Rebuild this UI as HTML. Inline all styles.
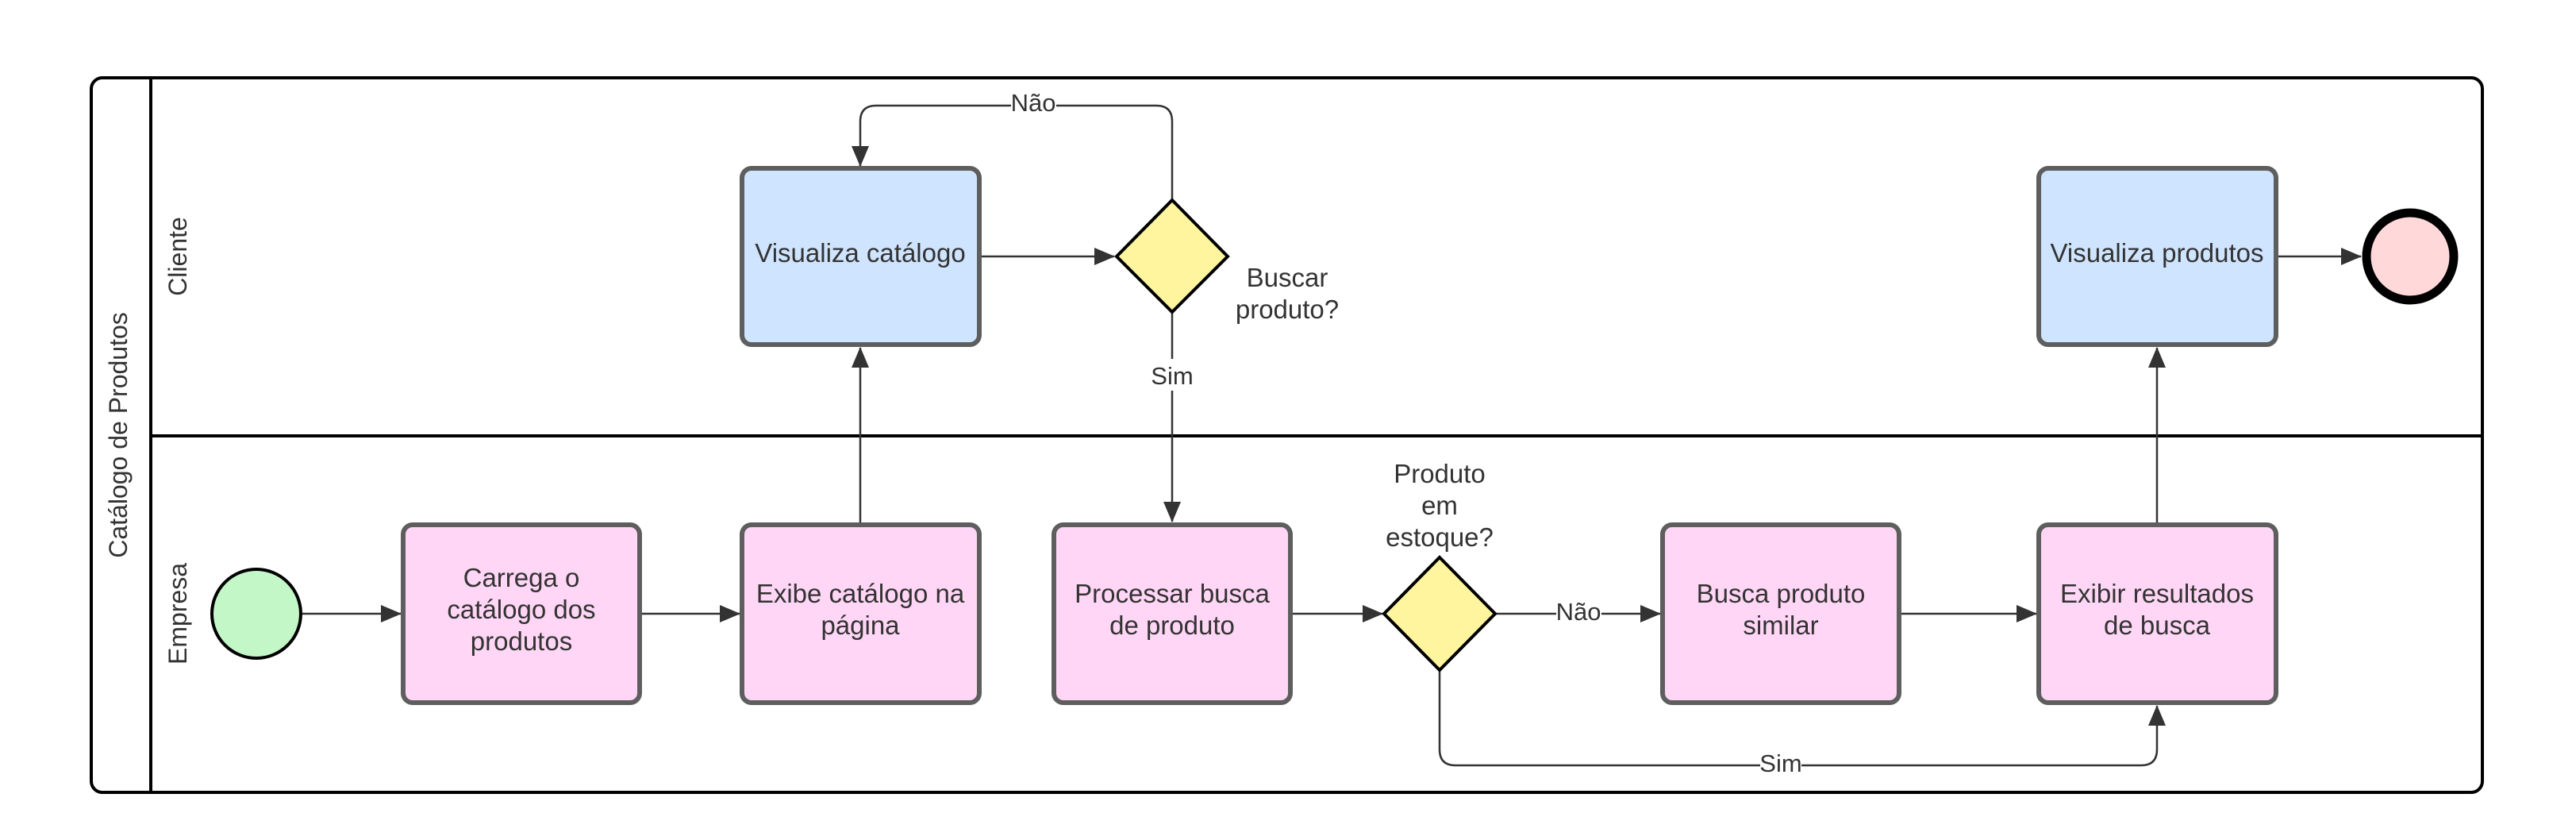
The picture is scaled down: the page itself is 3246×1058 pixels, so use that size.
<!DOCTYPE html>
<html><head><meta charset="utf-8"><style>
html,body{margin:0;padding:0;background:#fff;}
svg{display:block;}
text{font-family:"Liberation Sans",sans-serif;fill:#333;}
</style></head><body>
<svg width="3246" height="1058" viewBox="0 0 3246 1058" xmlns="http://www.w3.org/2000/svg">
<defs>
<marker id="b" markerWidth="26" markerHeight="22" refX="25" refY="11" orient="auto" markerUnits="userSpaceOnUse" viewBox="0 0 26 22">
<path d="M0,0 L26,11 L0,22 Z" fill="#333"/></marker>
</defs>
<!-- pool -->
<rect x="115" y="98" width="3013" height="900" rx="14" fill="#fff" stroke="#000" stroke-width="4"/>
<line x1="190" y1="98" x2="190" y2="998" stroke="#000" stroke-width="4"/>
<line x1="190" y1="549" x2="3128" y2="549" stroke="#000" stroke-width="4"/>
<text x="0" y="0" font-size="32" text-anchor="middle" transform="translate(160,548) rotate(-90)">Catálogo de Produtos</text>
<text x="0" y="0" font-size="32" text-anchor="middle" transform="translate(235,323) rotate(-90)">Cliente</text>
<text x="0" y="0" font-size="32" text-anchor="middle" transform="translate(235,773) rotate(-90)">Empresa</text>

<g stroke="#333" stroke-width="2.5" fill="none">
<line x1="380" y1="773" x2="505" y2="773" marker-end="url(#b)"/>
<line x1="808" y1="773" x2="932" y2="773" marker-end="url(#b)"/>
<line x1="1084" y1="658" x2="1084" y2="438" marker-end="url(#b)"/>
<line x1="1236" y1="323" x2="1404" y2="323" marker-end="url(#b)"/>
<path d="M1477,252 V153 Q1477,133 1457,133 H1104 Q1084,133 1084,153 V209" marker-end="url(#b)"/>
<line x1="1477" y1="393" x2="1477" y2="657" marker-end="url(#b)"/>
<line x1="1628" y1="773" x2="1742" y2="773" marker-end="url(#b)"/>
<line x1="1883" y1="773" x2="2092" y2="773" marker-end="url(#b)"/>
<line x1="2394" y1="773" x2="2566" y2="773" marker-end="url(#b)"/>
<path d="M1814,844 V944 Q1814,964 1834,964 H2698 Q2718,964 2718,944 V889" marker-end="url(#b)"/>
<line x1="2718" y1="658" x2="2718" y2="438" marker-end="url(#b)"/>
<line x1="2869" y1="323" x2="2975" y2="323" marker-end="url(#b)"/>
</g>
<!-- labels on lines -->
<rect x="1274" y="112" width="57" height="40" fill="#fff"/>
<text x="1302" y="140" font-size="31" text-anchor="middle">Não</text>
<rect x="1451" y="452" width="52" height="40" fill="#fff"/>
<text x="1477" y="484" font-size="31" text-anchor="middle">Sim</text>
<rect x="1961" y="752" width="57" height="40" fill="#fff"/>
<text x="1989" y="781" font-size="31" text-anchor="middle">Não</text>
<rect x="2218" y="944" width="52" height="40" fill="#fff"/>
<text x="2244" y="972" font-size="31" text-anchor="middle">Sim</text>

<!-- start/end -->
<circle cx="323" cy="773" r="56" fill="#c3f7c8" stroke="#000" stroke-width="4"/>
<circle cx="3037" cy="323" r="55" fill="#ffd9d9" stroke="#000" stroke-width="11"/>

<!-- boxes -->
<g stroke="#5e5e5e" stroke-width="6">
<rect x="935" y="212" width="299" height="222" rx="12" fill="#cfe4ff"/>
<rect x="2569" y="212" width="299" height="222" rx="12" fill="#cfe4ff"/>
<rect x="508" y="661" width="298" height="224" rx="12" fill="#ffd6f5"/>
<rect x="935" y="661" width="299" height="224" rx="12" fill="#ffd6f5"/>
<rect x="1328" y="661" width="298" height="224" rx="12" fill="#ffd6f5"/>
<rect x="2095" y="661" width="298" height="224" rx="12" fill="#ffd6f5"/>
<rect x="2569" y="661" width="299" height="224" rx="12" fill="#ffd6f5"/>
</g>
<g stroke="#000" stroke-width="4" fill="#fff59f">
<polygon points="1477,252 1547,323 1477,393 1407,323"/>
<polygon points="1814,702 1884,773 1814,844 1744,773"/>
</g>
<g font-size="33" text-anchor="middle">
<text x="1084" y="330">Visualiza catálogo</text>
<text x="2718" y="330">Visualiza produtos</text>
<text x="657" y="739">Carrega o</text>
<text x="657" y="779">catálogo dos</text>
<text x="657" y="819">produtos</text>
<text x="1084" y="759">Exibe catálogo na</text>
<text x="1084" y="799">página</text>
<text x="1477" y="759">Processar busca</text>
<text x="1477" y="799">de produto</text>
<text x="2244" y="759">Busca produto</text>
<text x="2244" y="799">similar</text>
<text x="2718" y="759">Exibir resultados</text>
<text x="2718" y="799">de busca</text>
<text x="1622" y="361">Buscar</text>
<text x="1622" y="401">produto?</text>
<text x="1814" y="608">Produto</text>
<text x="1814" y="648">em</text>
<text x="1814" y="688">estoque?</text>
</g>
</svg>
</body></html>
